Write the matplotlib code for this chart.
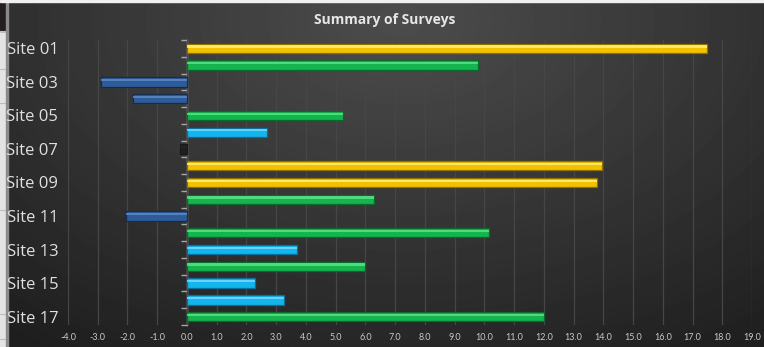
import numpy as np
import matplotlib
matplotlib.use('Agg')
import matplotlib.pyplot as plt
from matplotlib.patches import Rectangle

# Data
sites = ['Site %02d' % i for i in range(1, 18)]
values = [17.5, 9.8, -2.9, -1.8, 5.25, 2.7, -0.22, 13.95, 13.8, 6.3,
          -2.05, 10.15, 3.7, 6.0, 2.28, 3.25, 12.0]
x_ticks = np.arange(-4, 20, 1)

# Colours (main, highlight, edge) by value band
def band_colors(v):
    if v < -1:
        return '#2e5c9a', '#5f8cc6', '#142c52'
    if v < 0:
        return '#1f1f1f', '#262626', '#181818'
    if v < 5:
        return '#14b4ec', '#7adcff', '#0a6f99'
    if v < 13:
        return '#14b44e', '#5fe58a', '#0a6a2c'
    return '#f2c200', '#fff27a', '#8f6f00'

W, H = 764, 347
fig = plt.figure(figsize=(W / 100, H / 100), dpi=100)

# dark radial background
bg = fig.add_axes([0, 0, 1, 1], zorder=0)
yy, xx = np.mgrid[0:H, 0:W]
d = np.sqrt(((xx - 400) / 520.0) ** 2 + ((yy - 20) / 330.0) ** 2)
shade = np.clip(0.30 - 0.15 * d, 0.12, 0.31)
bg.imshow(shade, cmap='gray', vmin=0, vmax=1, aspect='auto',
          extent=[0, W, H, 0], interpolation='bilinear')
bg.set_xlim(0, W)
bg.set_ylim(H, 0)
bg.axis('off')

# spreadsheet strip at the left edge
bg.add_patch(Rectangle((0, 0), 6, H, color='#e4e4e4', zorder=2))
bg.add_patch(Rectangle((0, 0), 6, 31, color='#231f20', zorder=2))
for yl in [31, 69, 103, 210, 314, 339]:
    bg.plot([0, 6], [yl, yl], color='#bdbdbd', lw=0.8, zorder=3)
bg.add_patch(Rectangle((6, 0), 1.5, H, color='#8a8a8a', zorder=3))
bg.add_patch(Rectangle((0, 0), W, 2, color='#f0f0f0', zorder=3))

ax = fig.add_axes([68 / W, 1 - 325 / H, (752 - 68) / W, (325 - 40) / H], zorder=1)
ax.patch.set_alpha(0)

pos = np.arange(len(sites))
for p, v in zip(pos, values):
    main, hi, edge = band_colors(v)
    ax.barh(p, v, height=0.56, color=main, edgecolor=edge, linewidth=0.9, zorder=3)
    ax.barh(p - 0.11, v, height=0.13, color=hi, linewidth=0, zorder=4, alpha=0.8)

ax.set_xlim(-4, 19)
ax.set_ylim(len(sites) - 0.5, -0.5)
ax.set_xticks(x_ticks)
ax.set_xticklabels(['%.1f' % t for t in x_ticks], color='#c8c8c8', fontsize=6.5,
                   family='Lato')
ax.tick_params(axis='x', length=0, pad=6)
ax.grid(axis='x', color='#464646', linewidth=0.9, zorder=1)
ax.set_axisbelow(True)
for s in ax.spines.values():
    s.set_visible(False)

ax.set_yticks(pos[::2])
ax.set_yticklabels(sites[::2], color='#e0e0e0', fontsize=12, family='Open Sans')
ax.tick_params(axis='y', length=0, pad=7)

# category axis at value zero
sec = ax.secondary_yaxis(4 / 23)
sec.spines['left'].set_color('#a8a8a8')
sec.spines['left'].set_linewidth(1.0)
sec.set_yticks(np.arange(-0.5, len(sites), 1))
sec.set_yticklabels([])
sec.tick_params(axis='y', length=4, width=1.0, color='#a8a8a8', direction='out')

fig.text(385 / W, 1 - 20 / H, 'Summary of Surveys', ha='center', va='center',
         fontsize=10, fontweight='bold', color='#e6e6e6', family='Open Sans')

fig.savefig('out.png', dpi=100)
